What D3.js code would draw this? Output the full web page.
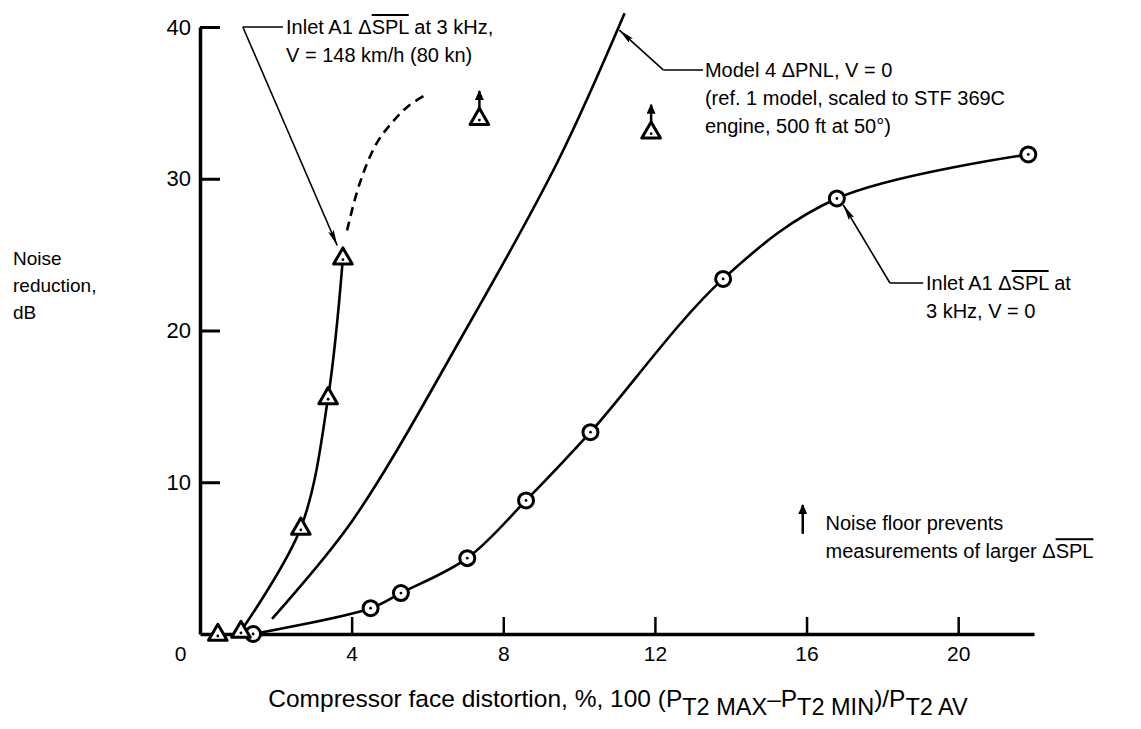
<!DOCTYPE html>
<html>
<head>
<meta charset="utf-8">
<script src="https://d3js.org/d3.v7.min.js"></script>
<style>
  body { margin: 0; background: #fff; }
  svg { font-family: "Liberation Sans", Arial, sans-serif; }
  .ov { text-decoration: overline; }
</style>
</head>
<body>
<div id="chart"></div>
<script>
// Inlet A1, V = 0 (circles)
const v0X = [1.4, 4.5, 5.3, 7.05, 8.6, 10.3, 13.8, 16.8, 21.85];
const v0Y = [0, 1.7, 2.7, 5.0, 8.8, 13.3, 23.4, 28.7, 31.6];
// Inlet A1, V = 148 km/h (triangles)
const v148X = [0.47, 1.08, 2.66, 3.38, 3.77];
const v148Y = [0, 0.2, 7.0, 15.6, 24.8];
// dashed extrapolation of the V = 148 km/h curve
const dashX = [3.88, 4.2, 4.65, 5.1, 5.5, 6.0];
const dashY = [26.6, 29.6, 32.3, 33.8, 34.8, 35.6];
// noise floor limited points (triangle + arrow)
const floorX = [7.37, 11.9];
const floorY = [34.0, 33.1];
// Model 4 delta PNL, V = 0
const modelX = [1.9, 4.0, 7.0, 9.45, 11.2];
const modelY = [1.0, 7.4, 20.0, 31.2, 40.9];

const xTicks = [0, 4, 8, 12, 16, 20];
const yTicks = [10, 20, 30, 40];

const width = 1141, height = 729;

const svg = d3.select("#chart").append("svg")
    .attr("width", width)
    .attr("height", height)
    .style("background", "#fff");

const x = d3.scaleLinear().domain([0, 22]).range([200, 1034]);
const y = d3.scaleLinear().domain([0, 40]).range([634, 27]);

const defs = svg.append("defs");
// thin leader arrowhead
defs.append("marker")
    .attr("id", "arr")
    .attr("viewBox", "0 0 16 6")
    .attr("refX", 16).attr("refY", 3)
    .attr("markerUnits", "userSpaceOnUse")
    .attr("markerWidth", 16).attr("markerHeight", 6)
    .attr("orient", "auto")
    .append("path")
    .attr("d", "M0,0 L16,3 L0,6 L3,3 Z")
    .attr("fill", "#000");
// stubby noise floor arrowhead
defs.append("marker")
    .attr("id", "arrFat")
    .attr("viewBox", "0 0 10 9")
    .attr("refX", 9).attr("refY", 4.5)
    .attr("markerUnits", "userSpaceOnUse")
    .attr("markerWidth", 10).attr("markerHeight", 9)
    .attr("orient", "auto")
    .append("path")
    .attr("d", "M0,0 L10,4.5 L0,9 Z")
    .attr("fill", "#000");

// Axes
const xAxis = svg.append("g")
    .attr("transform", `translate(0,${y(0)})`)
    .call(d3.axisBottom(x).tickValues(xTicks).tickSize(-17).tickSizeOuter(0).tickPadding(12).tickFormat(d3.format("d")));
xAxis.select(".domain").attr("stroke-width", 3.5);
xAxis.selectAll(".tick line").attr("stroke-width", 2.5);
xAxis.selectAll("text").style("font-size", "21px").attr("fill", "#000");
xAxis.selectAll(".tick").filter(d => d === 0).select("text").attr("x", -20);
xAxis.selectAll(".tick").filter(d => d === 0).select("line").remove();

const yAxis = svg.append("g")
    .attr("transform", `translate(${x(0)},0)`)
    .call(d3.axisLeft(y).tickValues(yTicks).tickSize(-20).tickSizeOuter(0).tickPadding(9));
yAxis.select(".domain").attr("stroke-width", 3.5);
yAxis.selectAll(".tick line").attr("stroke-width", 3);
yAxis.selectAll("text").style("font-size", "22px").attr("fill", "#000");

// Axis titles
const yTitle = svg.append("text")
    .attr("x", 13).attr("y", 265)
    .style("font-size", "19px");
["Noise", "reduction,", "dB"].forEach((t, i) => {
    yTitle.append("tspan").attr("x", 13).attr("dy", i === 0 ? 0 : 27).text(t);
});

const xTitle = svg.append("text")
    .attr("x", 618).attr("y", 707)
    .attr("text-anchor", "middle")
    .style("font-size", "24.5px");
xTitle.append("tspan").text("Compressor face distortion, %, 100 (P");
xTitle.append("tspan").attr("dy", 8).style("font-size", "23.5px").text("T2 MAX");
xTitle.append("tspan").attr("dy", -8).text("\u2013P");
xTitle.append("tspan").attr("dy", 8).style("font-size", "23.5px").text("T2 MIN");
xTitle.append("tspan").attr("dy", -8).text(")/P");
xTitle.append("tspan").attr("dy", 8).style("font-size", "23.5px").text("T2 AV");

// Curves
const smooth = d3.line()
    .x(d => x(d[0]))
    .y(d => y(d[1]))
    .curve(d3.curveCatmullRom.alpha(0.5));

svg.append("path")
    .datum(d3.zip(v0X, v0Y))
    .attr("d", smooth)
    .attr("fill", "none").attr("stroke", "#000").attr("stroke-width", 2.6);

svg.append("path")
    .datum(d3.zip(v148X, v148Y).slice(1))
    .attr("d", smooth)
    .attr("fill", "none").attr("stroke", "#000").attr("stroke-width", 2.6);

svg.append("path")
    .datum(d3.zip(dashX, dashY))
    .attr("d", smooth)
    .attr("fill", "none").attr("stroke", "#000").attr("stroke-width", 2.6)
    .attr("stroke-dasharray", "9,6");

svg.append("path")
    .datum(d3.zip(modelX, modelY))
    .attr("d", smooth)
    .attr("fill", "none").attr("stroke", "#000").attr("stroke-width", 2.6);

// Markers
const tri = d3.symbol().type(d3.symbolTriangle).size(150);

function drawTriangles(xs, ys) {
    const g = svg.append("g");
    const pts = d3.zip(xs, ys);
    g.selectAll("path.tri")
        .data(pts).enter().append("path")
        .attr("class", "tri")
        .attr("d", tri)
        .attr("transform", d => `translate(${x(d[0])},${y(d[1]) + 1})`)
        .attr("fill", "#fff").attr("stroke", "#000").attr("stroke-width", 3)
        .attr("stroke-linejoin", "round");
    g.selectAll("circle.dot")
        .data(pts).enter().append("circle")
        .attr("cx", d => x(d[0])).attr("cy", d => y(d[1]) + 2)
        .attr("r", 1.4).attr("fill", "#000");
    return g;
}

const circG = svg.append("g");
const circPts = d3.zip(v0X, v0Y);
circG.selectAll("circle.mk")
    .data(circPts).enter().append("circle")
    .attr("cx", d => x(d[0])).attr("cy", d => y(d[1]))
    .attr("r", 7.5).attr("fill", "#fff").attr("stroke", "#000").attr("stroke-width", 3);
circG.selectAll("circle.dot")
    .data(circPts).enter().append("circle")
    .attr("cx", d => x(d[0])).attr("cy", d => y(d[1]))
    .attr("r", 1.4).attr("fill", "#000");

drawTriangles(v148X, v148Y);
drawTriangles(floorX, floorY);

// noise floor arrows above the limited points
svg.selectAll("line.floor")
    .data(d3.zip(floorX, floorY)).enter().append("line")
    .attr("x1", d => x(d[0])).attr("y1", d => y(d[1]) - 9)
    .attr("x2", d => x(d[0])).attr("y2", d => y(d[1]) - 27)
    .attr("stroke", "#000").attr("stroke-width", 2.5)
    .attr("marker-end", "url(#arrFat)");

// Annotations
function leader(elbow, lineEnd, tip) {
    svg.append("line")
        .attr("x1", x(elbow[0])).attr("y1", y(elbow[1]))
        .attr("x2", x(lineEnd)).attr("y2", y(elbow[1]))
        .attr("stroke", "#000").attr("stroke-width", 1.6);
    svg.append("line")
        .attr("x1", x(elbow[0])).attr("y1", y(elbow[1]))
        .attr("x2", x(tip[0])).attr("y2", y(tip[1]))
        .attr("stroke", "#000").attr("stroke-width", 1.6)
        .attr("marker-end", "url(#arr)");
}

function label(xv, yv, lines) {
    const t = svg.append("text")
        .attr("x", x(xv)).attr("y", y(yv) + 7)
        .style("font-size", "20px");
    lines.forEach((parts, i) => {
        parts.forEach((p, j) => {
            const s = t.append("tspan").text(p.t);
            if (j === 0) s.attr("x", x(xv)).attr("dy", i === 0 ? 0 : 28);
            if (p.ov) s.attr("class", "ov");
        });
    });
}

leader([1.13, 40], 2.19, [3.62, 25.6]);
label(2.27, 40, [
    [{ t: "Inlet A1 \u0394" }, { t: "SPL", ov: true }, { t: " at 3 kHz," }],
    [{ t: "V = 148 km/h (80 kn)" }]
]);

leader([12.22, 37.17], 13.27, [11.06, 39.8]);
label(13.32, 37.17, [
    [{ t: "Model 4 \u0394PNL, V = 0" }],
    [{ t: "(ref. 1 model, scaled to STF 369C" }],
    [{ t: "engine, 500 ft at 50\u00b0)" }]
]);

leader([18.2, 23.13], 19.08, [16.97, 28.27]);
label(19.15, 23.13, [
    [{ t: "Inlet A1 \u0394" }, { t: "SPL", ov: true }, { t: " at" }],
    [{ t: "3 kHz, V = 0" }]
]);

// noise floor legend
svg.append("line")
    .attr("x1", x(15.9)).attr("y1", y(6.6))
    .attr("x2", x(15.9)).attr("y2", y(8.5))
    .attr("stroke", "#000").attr("stroke-width", 2.5)
    .attr("marker-end", "url(#arrFat)");
label(16.5, 7.3, [
    [{ t: "Noise floor prevents" }],
    [{ t: "measurements of larger \u0394" }, { t: "SPL", ov: true }]
]);
</script>
</body>
</html>
